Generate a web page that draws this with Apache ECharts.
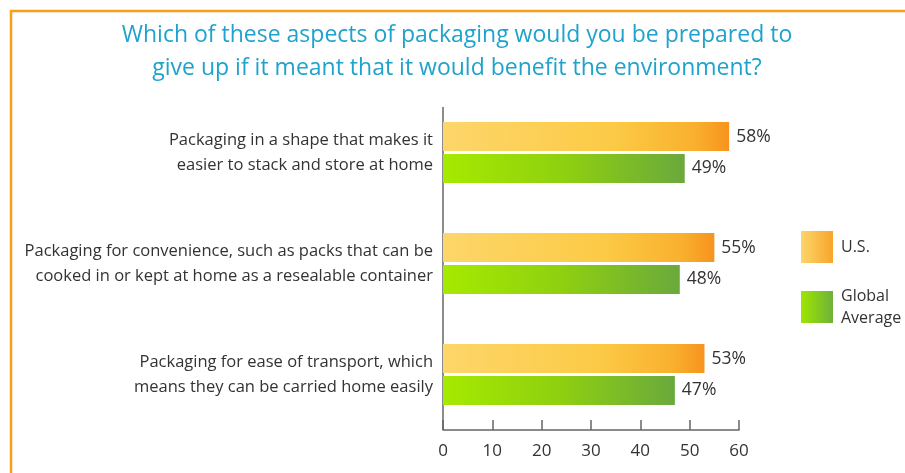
<!DOCTYPE html>
<html>
<head>
<meta charset="utf-8">
<script src="https://cdn.jsdelivr.net/npm/echarts@6/dist/echarts.min.js"></script>
<style>html,body{margin:0;padding:0;background:#fff;}#c{width:905px;height:473px;}</style>
</head>
<body>
<div id="c"></div>
<script>
const categories = [
  'Packaging in a shape that makes it\neasier to stack and store at home',
  'Packaging for convenience, such as packs that can be\ncooked in or kept at home as a resealable container',
  'Packaging for ease of transport, which\nmeans they can be carried home easily'
];
const usValues = [58, 55, 53];
const globalValues = [49, 48, 47];
const xTicks = [0, 10, 20, 30, 40, 50, 60];
const seriesNames = ['U.S.', 'Global Average'];

const font = '"Open Sans", "Noto Sans", sans-serif';
const orangeGrad = new echarts.graphic.LinearGradient(0, 0, 1, 0, [
  {offset: 0, color: '#fdd66a'}, {offset: 0.6, color: '#fcca45'}, {offset: 0.88, color: '#f9b02e'}, {offset: 1, color: '#f7931e'}
]);
const greenGrad = new echarts.graphic.LinearGradient(0, 0, 1, 0, [
  {offset: 0, color: '#a6ea00'}, {offset: 0.5, color: '#8fd010'}, {offset: 1, color: '#6aa93c'}
]);
const legOrange = new echarts.graphic.LinearGradient(0, 0, 1, 0, [
  {offset: 0, color: '#fdd66a'}, {offset: 1, color: '#f8a52a'}
]);
const legGreen = new echarts.graphic.LinearGradient(0, 0, 1, 0, [
  {offset: 0, color: '#9ee600'}, {offset: 1, color: '#6fb13a'}
]);

const chart = echarts.init(document.getElementById('c'));
chart.setOption({
  backgroundColor: '#fff',
  animation: false,
  title: {
    text: 'Which of these aspects of packaging would you be prepared to\ngive up if it meant that it would benefit the environment?',
    left: 452, top: 14, textAlign: 'center',
    textStyle: {fontFamily: font, fontSize: 23, fontWeight: 'normal', color: '#1fa3cc', lineHeight: 33}
  },
  graphic: [
    {type: 'line', shape: {x1: 10, y1: 11, x2: 905, y2: 11}, style: {stroke: '#f7a01a', lineWidth: 2.5}},
    {type: 'line', shape: {x1: 11, y1: 10, x2: 11, y2: 473}, style: {stroke: '#f7a01a', lineWidth: 2.5}},
    {type: 'line', shape: {x1: 443, y1: 107, x2: 443, y2: 430}, style: {stroke: '#666', lineWidth: 1.5}}
  ],
  legend: {
    orient: 'vertical', left: 801, top: 231, padding: 0,
    itemWidth: 32, itemHeight: 32, itemGap: 22,
    icon: 'rect',
    data: [
      {name: seriesNames[0], itemStyle: {color: legOrange}},
      {name: seriesNames[1], itemStyle: {color: legGreen}}
    ],
    formatter: n => n === 'Global Average' ? 'Global\nAverage' : n,
    textStyle: {fontFamily: font, fontSize: 16, color: '#333', lineHeight: 22, padding: [0, 0, 0, 3]}
  },
  grid: {left: 443, right: 166, top: 97, bottom: 43},
  xAxis: {
    type: 'value', min: 0, max: 60, interval: 10,
    axisLine: {show: true, lineStyle: {color: '#666', width: 1.5}},
    axisTick: {show: true, inside: true, length: 10, lineStyle: {color: '#666', width: 1.5}},
    splitLine: {show: false},
    axisLabel: {fontFamily: font, fontSize: 17, color: '#333', margin: 13,
      formatter: v => xTicks.includes(v) ? String(v) : ''}
  },
  yAxis: {
    type: 'category', data: categories, inverse: true,
    axisLine: {show: false},
    axisTick: {show: false},
    axisLabel: {fontFamily: font, fontSize: 16.5, color: '#333', margin: 10, lineHeight: 25, align: 'right'}
  },
  series: [
    {
      name: seriesNames[0], type: 'bar', data: usValues,
      barWidth: 29, barGap: '10%',
      itemStyle: {color: orangeGrad},
      label: {show: true, position: 'right', distance: 7, formatter: '{c}%',
        fontFamily: font, fontSize: 17.5, color: '#333'}
    },
    {
      name: seriesNames[1], type: 'bar', data: globalValues,
      barWidth: 29,
      itemStyle: {color: greenGrad},
      label: {show: true, position: 'right', distance: 7, formatter: '{c}%',
        fontFamily: font, fontSize: 17.5, color: '#333'}
    }
  ]
});
</script>
</body>
</html>
